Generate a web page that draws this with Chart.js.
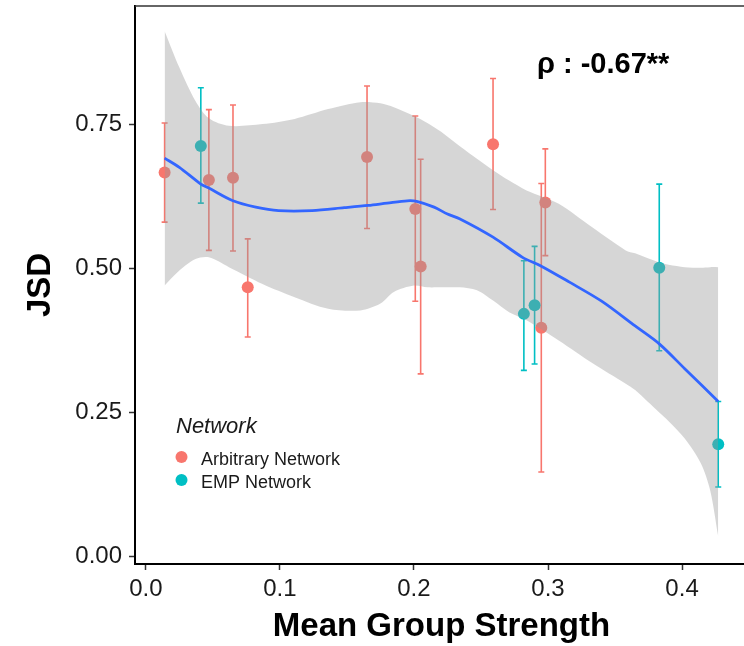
<!DOCTYPE html>
<html>
<head>
<meta charset="utf-8">
<script src="https://cdn.jsdelivr.net/npm/chart.js@4.4.1/dist/chart.umd.min.js"></script>
<style>
    html, body { margin: 0; padding: 0; background: #fff; overflow: hidden; }
    #wrap { width: 744px; height: 646px; overflow: hidden; }
    canvas { display: block; }
</style>
</head>
<body>
<div id="wrap"><canvas id="jsdChart" width="754" height="646"></canvas></div>
<script>
// Arbitrary network groups
const arbStrength = [0.014, 0.047, 0.065, 0.076, 0.165, 0.201, 0.205, 0.259, 0.295, 0.298];
const arbJSD      = [0.666, 0.653, 0.657, 0.467, 0.693, 0.603, 0.503, 0.715, 0.397, 0.614];
const arbLow      = [0.580, 0.531, 0.530, 0.381, 0.569, 0.443, 0.317, 0.602, 0.147, 0.522];
const arbHigh     = [0.752, 0.775, 0.783, 0.551, 0.816, 0.764, 0.689, 0.829, 0.647, 0.707];

// EMP network groups
const empStrength = [0.041, 0.282, 0.290, 0.383, 0.427];
const empJSD      = [0.712, 0.421, 0.436, 0.501, 0.195];
const empLow      = [0.613, 0.323, 0.334, 0.357, 0.121];
const empHigh     = [0.813, 0.513, 0.538, 0.646, 0.269];

// smooth fit
const fitX = [0.014, 0.025, 0.041, 0.047, 0.065, 0.082, 0.099, 0.124, 0.148, 0.166, 0.180, 0.195, 0.202,
              0.215, 0.225, 0.234, 0.259, 0.281, 0.294, 0.316, 0.340, 0.365, 0.383, 0.402, 0.427];
const fitY = [0.691, 0.675, 0.646, 0.639, 0.617, 0.606, 0.600, 0.600, 0.605, 0.609, 0.613, 0.617, 0.616,
              0.606, 0.594, 0.586, 0.554, 0.519, 0.505, 0.476, 0.443, 0.400, 0.369, 0.326, 0.269];

// confidence band
const bandX     = [0.014, 0.025, 0.037, 0.047, 0.062, 0.087, 0.111, 0.136, 0.160, 0.175, 0.185, 0.200, 0.210, 0.220, 0.234,
                   0.247, 0.259, 0.271, 0.284, 0.308, 0.333, 0.358, 0.365, 0.383, 0.390, 0.402, 0.414, 0.421, 0.427];
const bandUpper = [0.911, 0.848, 0.790, 0.760, 0.747, 0.750, 0.759, 0.776, 0.788, 0.786, 0.779, 0.764, 0.752, 0.737, 0.712,
                   0.690, 0.670, 0.652, 0.635, 0.612, 0.571, 0.531, 0.526, 0.510, 0.506, 0.502, 0.501, 0.502, 0.502];
const bandLower = [0.470, 0.496, 0.516, 0.519, 0.502, 0.473, 0.450, 0.430, 0.427, 0.439, 0.459, 0.470, 0.467, 0.467, 0.467,
                   0.462, 0.444, 0.424, 0.410, 0.375, 0.336, 0.300, 0.289, 0.250, 0.235, 0.205, 0.162, 0.115, 0.035];

const xTicks = [0, 0.1, 0.2, 0.3, 0.4];
const yTicks = [0, 0.25, 0.5, 0.75];

const RED = '#F8766D';
const TEAL = '#00BFC4';
const FONT = "'Liberation Sans', Arial, sans-serif";

const toPoints = (xs, ys) => xs.map((v, i) => ({ x: v, y: ys[i] }));

const groups = [
    { color: RED, x: arbStrength, low: arbLow, high: arbHigh },
    { color: TEAL, x: empStrength, low: empLow, high: empHigh }
];

// error bars go under the points and the grey band
const errorBars = {
    id: 'errorBars',
    beforeDatasetsDraw(chart) {
        const { ctx, scales: { x, y } } = chart;
        groups.forEach(g => {
            ctx.save();
            ctx.strokeStyle = g.color;
            ctx.lineWidth = 1.6;
            g.x.forEach((v, i) => {
                const px = x.getPixelForValue(v);
                const top = y.getPixelForValue(g.high[i]);
                const bot = y.getPixelForValue(g.low[i]);
                ctx.beginPath();
                ctx.moveTo(px, top); ctx.lineTo(px, bot);
                ctx.moveTo(px - 3, top); ctx.lineTo(px + 3, top);
                ctx.moveTo(px - 3, bot); ctx.lineTo(px + 3, bot);
                ctx.stroke();
            });
            ctx.restore();
        });
    }
};

// panel frame, legend and correlation label
const extras = {
    id: 'extras',
    afterDraw(chart) {
        const { ctx, chartArea: a } = chart;
        ctx.save();
        ctx.strokeStyle = '#333';
        ctx.lineWidth = 1.5;
        ctx.beginPath();
        ctx.moveTo(a.left, a.top); ctx.lineTo(a.right, a.top);
        ctx.stroke();

        ctx.fillStyle = '#000';
        ctx.textBaseline = 'alphabetic';
        ctx.textAlign = 'left';
        ctx.font = 'bold 29px ' + FONT;
        ctx.fillText('ρ : -0.67**', 537, 73);

        ctx.font = 'italic 22px ' + FONT;
        ctx.fillStyle = '#1a1a1a';
        ctx.fillText('Network', 176, 433);

        const items = [['Arbitrary Network', RED], ['EMP Network', TEAL]];
        ctx.font = '18px ' + FONT;
        items.forEach(([label, color], i) => {
            const cy = 457 + i * 23;
            ctx.fillStyle = color;
            ctx.beginPath();
            ctx.arc(181.5, cy, 6, 0, Math.PI * 2);
            ctx.fill();
            ctx.fillStyle = '#1a1a1a';
            ctx.fillText(label, 201, cy + 8);
        });
        ctx.restore();
    }
};

new Chart(document.getElementById('jsdChart'), {
    type: 'scatter',
    data: {
        datasets: [{
            label: 'Arbitrary Network',
            data: toPoints(arbStrength, arbJSD),
            backgroundColor: RED,
            borderWidth: 0,
            pointRadius: 6,
            order: 4
        }, {
            label: 'EMP Network',
            data: toPoints(empStrength, empJSD),
            backgroundColor: TEAL,
            borderWidth: 0,
            pointRadius: 6,
            order: 4
        }, {
            label: 'upper',
            type: 'line',
            data: toPoints(bandX, bandUpper),
            borderWidth: 0,
            pointRadius: 0,
            tension: 0.3,
            fill: '+1',
            backgroundColor: 'rgba(153,153,153,0.4)',
            order: 2
        }, {
            label: 'lower',
            type: 'line',
            data: toPoints(bandX, bandLower),
            borderWidth: 0,
            pointRadius: 0,
            tension: 0.3,
            fill: false,
            order: 3
        }, {
            label: 'fit',
            type: 'line',
            data: toPoints(fitX, fitY),
            borderColor: '#3366FF',
            borderWidth: 2.8,
            pointRadius: 0,
            tension: 0.3,
            fill: false,
            order: 1
        }]
    },
    options: {
        responsive: false,
        animation: false,
        events: [],
        layout: { padding: { top: 5, right: 0, bottom: 0, left: 0 } },
        plugins: {
            legend: { display: false },
            tooltip: { enabled: false }
        },
        scales: {
            x: {
                type: 'linear',
                min: -0.0081,
                max: 0.4492,
                afterBuildTicks: s => { s.ticks = xTicks.map(v => ({ value: v })); },
                afterFit: s => { s.height = 82; s.paddingLeft = 0; s.paddingRight = 0; },
                grid: { drawOnChartArea: false, tickLength: 6, tickColor: '#333', tickWidth: 1.5 },
                border: { color: '#000', width: 2 },
                ticks: {
                    font: { size: 24, family: FONT },
                    color: '#1a1a1a',
                    padding: 5,
                    maxRotation: 0,
                    callback: v => v.toFixed(1)
                },
                title: {
                    display: true,
                    text: 'Mean Group Strength',
                    font: { size: 33, weight: 'bold', family: FONT },
                    color: '#000',
                    padding: { top: 0, bottom: -1 }
                }
            },
            y: {
                min: -0.0126,
                max: 0.9547,
                afterBuildTicks: s => { s.ticks = yTicks.map(v => ({ value: v })); },
                afterFit: s => { s.width = 135; s.paddingTop = 0; s.paddingBottom = 0; },
                grid: { drawOnChartArea: false, tickLength: 6, tickColor: '#333', tickWidth: 1.5 },
                border: { color: '#000', width: 2 },
                ticks: {
                    font: { size: 24, family: FONT },
                    color: '#1a1a1a',
                    padding: 7,
                    callback: v => v.toFixed(2)
                },
                title: {
                    display: true,
                    text: 'JSD',
                    font: { size: 33, weight: 'bold', family: FONT },
                    color: '#000',
                    padding: { top: 21, bottom: 0 }
                }
            }
        }
    },
    plugins: [errorBars, extras]
});
</script>
</body>
</html>
